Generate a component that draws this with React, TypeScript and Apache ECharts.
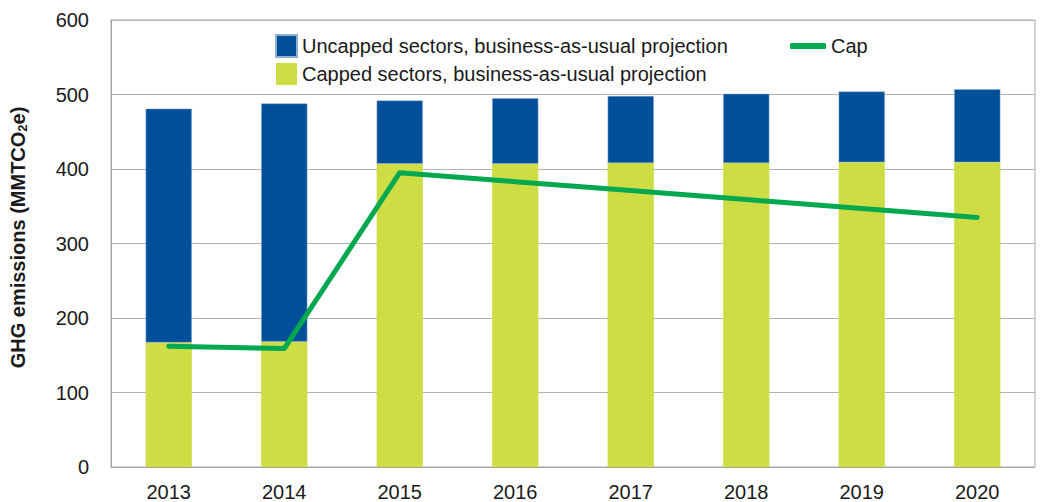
import React, { useEffect, useRef } from "react";
import * as echarts from "echarts";

const years = ["2013", "2014", "2015", "2016", "2017", "2018", "2019", "2020"];
const capped = [167, 168, 407, 407, 408, 408, 409, 409];
const uncapped = [314, 320, 85, 88, 90, 93, 95, 98];
const cap = [162, 159, 395, 383, 371, 359, 347, 335];

const FONT = "Liberation Sans, Arial, Helvetica, sans-serif";

export default function App() {
  const ref = useRef<HTMLDivElement>(null);
  useEffect(() => {
    if (!ref.current) return;
    const chart = echarts.init(ref.current, undefined, { renderer: "svg" });
    chart.setOption({
      animation: false,
      textStyle: { fontFamily: FONT },
      grid: {
        left: 109,
        right: 6,
        top: 20,
        bottom: 35,
        show: true,
        borderColor: "#a6a6a6",
        borderWidth: 1,
      },
      legend: [
        {
          orient: "vertical",
          left: 275,
          top: 34,
          padding: 0,
          itemWidth: 21,
          itemHeight: 22,
          itemGap: 5,
          textStyle: { fontSize: 20, color: "#1a1a1a", fontFamily: FONT },
          data: [
            { name: "Uncapped sectors, business-as-usual projection", icon: "rect" },
            { name: "Capped sectors, business-as-usual projection", icon: "rect" },
          ],
        },
        {
          left: 790,
          top: 36,
          padding: 0,
          itemWidth: 36,
          itemHeight: 6,
          itemHeight2: 6,
          textStyle: { fontSize: 20, color: "#1a1a1a", fontFamily: FONT },
          data: [{ name: "Cap", icon: "roundRect" }],
        },
      ],
      xAxis: {
        type: "category",
        data: years,
        axisLine: { lineStyle: { color: "#a6a6a6" } },
        axisTick: { show: false },
        axisLabel: { fontSize: 20, color: "#1a1a1a", margin: 15 },
      },
      yAxis: {
        type: "value",
        min: 0,
        max: 600,
        interval: 100,
        axisLine: { show: true, lineStyle: { color: "#a6a6a6" } },
        axisTick: { show: false },
        axisLabel: { fontSize: 20, color: "#1a1a1a", margin: 22 },
        splitLine: { lineStyle: { color: "#b3b3b3", width: 1 } },
        name: "GHG emissions (MMTCO{sub|2}e)",
        nameLocation: "middle",
        nameGap: 82,
        nameRotate: 90,
        nameTextStyle: {
          fontSize: 20,
          fontWeight: "bold",
          color: "#1a1a1a",
          padding: [0, 0, 0, 12],
          rich: {
            sub: { fontSize: 13, fontWeight: "bold", verticalAlign: "bottom", padding: [9, 0, 0, 0] },
          },
        },
      },
      series: [
        {
          name: "Capped sectors, business-as-usual projection",
          type: "bar",
          stack: "total",
          data: capped,
          barWidth: "40%",
          itemStyle: { color: "#cfdd45" },
        },
        {
          name: "Uncapped sectors, business-as-usual projection",
          type: "bar",
          stack: "total",
          data: uncapped,
          barWidth: "40%",
          itemStyle: { color: "#004f98", borderColor: "#8fb0d0", borderWidth: 0.5 },
        },
        {
          name: "Cap",
          type: "line",
          data: cap,
          symbol: "none",
          itemStyle: { color: "#00a84f" },
          lineStyle: { color: "#00a84f", width: 5, cap: "round", join: "round" },
          z: 5,
        },
      ],
    });
    return () => chart.dispose();
  }, []);
  return <div ref={ref} style={{ width: 1041, height: 502, position: "absolute", left: 0, top: 0 }} />;
}
